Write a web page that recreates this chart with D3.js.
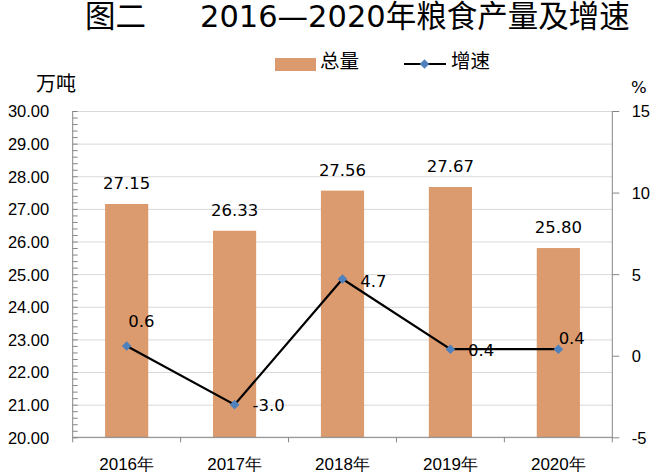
<!DOCTYPE html>
<html><head><meta charset="utf-8">
<script src="https://cdn.jsdelivr.net/npm/d3@7"></script>
<style>
html,body{margin:0;padding:0;background:#fff;}
svg{display:block;font-family:"DejaVu Sans","Noto Sans CJK SC",sans-serif;}
</style></head>
<body>
<svg id="chart" width="655" height="473"></svg>
<script>
// ---- data ----
const categories = ["2016年","2017年","2018年","2019年","2020年"];
const totals = [27.15, 26.33, 27.56, 27.67, 25.80];   // 万吨
const growth = [0.6, -3.0, 4.7, 0.4, 0.4];             // %
const leftTicks = [20,21,22,23,24,25,26,27,28,29,30];
const rightTicks = [-5,0,5,10,15];
const titleLead = "图二";
const titleMain = "2016—2020年粮食产量及增速";
const seriesNames = ["总量","增速"];

// ---- layout ----
const L = 72.7, R = 612.3, T = 111, B = 437.3;
const barColor = "#db9b6f", markColor = "#4f81bd", gridColor = "#d9d9d9", axisColor = "#868686";
// growth label offsets (dx, dy) relative to point
const gLabelOff = [[1.6,-19],[18,6.7],[17.7,7.7],[17.5,6.7],[0.3,-5]];

const svg = d3.select("#chart");
const x = d3.scaleBand().domain(categories).range([L, R]).paddingInner(0.6).paddingOuter(0.3);
const yL = d3.scaleLinear().domain([20,30]).range([B, T]);
const yR = d3.scaleLinear().domain([-5,15]).range([B, T]);

// title
const title = svg.append("text").attr("y", 27).attr("font-size", 30.5).attr("fill", "#000");
title.append("tspan").attr("x", 85).text(titleLead);
title.append("tspan").attr("x", 200).text(titleMain);

// gridlines
const grid = svg.append("g").attr("transform", `translate(${L},0)`)
  .call(d3.axisRight(yL).tickValues(leftTicks).tickSize(R - L).tickFormat(""));
grid.select(".domain").remove();
grid.selectAll("line").attr("stroke", gridColor).attr("stroke-width", 1);

// bars
svg.append("g").selectAll("rect").data(totals).join("rect")
  .attr("x", (d,i) => x(categories[i]))
  .attr("width", x.bandwidth())
  .attr("y", d => yL(d))
  .attr("height", d => B - yL(d))
  .attr("fill", barColor);

// left minor ticks
const minor = svg.append("g").attr("transform", `translate(${L},0)`)
  .call(d3.axisRight(yL).ticks(50).tickSize(5).tickFormat(""));
minor.select(".domain").remove();
minor.selectAll("line").attr("stroke", axisColor);

// left axis labels
const la = svg.append("g").attr("transform", `translate(${L},0)`)
  .call(d3.axisLeft(yL).tickValues(leftTicks).tickFormat(d3.format(".2f")).tickSize(0).tickPadding(23.5));
la.select(".domain").remove();
la.selectAll("text").attr("font-size", 16.5).attr("fill", "#000").attr("font-family", null).attr("dy", "0.36em");

// right axis
const ra = svg.append("g").attr("transform", `translate(${R},0)`)
  .call(d3.axisRight(yR).tickValues(rightTicks).tickFormat(d => String(d)).tickSize(7).tickPadding(12.4));
ra.select(".domain").remove();
ra.selectAll("line").attr("stroke", axisColor);
ra.selectAll("text").attr("font-size", 16.5).attr("fill", "#000").attr("font-family", null).attr("dy", "0.36em");

// axis lines
svg.append("line").attr("x1", L).attr("x2", L).attr("y1", T).attr("y2", B + 5).attr("stroke", axisColor);
svg.append("line").attr("x1", R).attr("x2", R).attr("y1", T).attr("y2", B + 5).attr("stroke", axisColor);
svg.append("line").attr("x1", L).attr("x2", R).attr("y1", B).attr("y2", B).attr("stroke", axisColor);

// category boundary ticks
const step = x.step();
const bounds = categories.map(c => x(c) + x.bandwidth()/2 - step/2).slice(1);
svg.append("g").selectAll("line").data(bounds).join("line")
  .attr("x1", d => d).attr("x2", d => d).attr("y1", B).attr("y2", B + 5).attr("stroke", axisColor);

// category labels
const ba = svg.append("g").attr("transform", `translate(0,${B})`)
  .call(d3.axisBottom(x).tickSize(0).tickPadding(20.5));
ba.select(".domain").remove();
ba.selectAll("text").attr("font-size", 17).attr("fill", "#000").attr("font-family", null);

// bar value labels
svg.append("g").selectAll("text").data(totals).join("text")
  .attr("x", (d,i) => x(categories[i]) + x.bandwidth()/2)
  .attr("y", d => yL(d) - 15)
  .attr("text-anchor", "middle").attr("font-size", 16.5).attr("fill", "#000")
  .text(d => d.toFixed(2));

// growth line
const cx = (i) => x(categories[i]) + x.bandwidth()/2;
const line = d3.line().x((d,i) => cx(i)).y(d => yR(d));
svg.append("path").datum(growth).attr("d", line).attr("fill", "none")
  .attr("stroke", "#000").attr("stroke-width", 2.2);
const diamond = d3.symbol().type(d3.symbolSquare).size(46);
svg.append("g").selectAll("path").data(growth).join("path")
  .attr("d", diamond)
  .attr("transform", (d,i) => `translate(${cx(i)},${yR(d)}) rotate(45)`)
  .attr("fill", markColor);
svg.append("g").selectAll("text").data(growth).join("text")
  .attr("x", (d,i) => cx(i) + gLabelOff[i][0])
  .attr("y", (d,i) => yR(d) + gLabelOff[i][1])
  .attr("font-size", 16.5).attr("fill", "#000")
  .text(d => d.toFixed(1));

// unit labels
svg.append("text").attr("x", 36).attr("y", 91).attr("font-size", 20).text("万吨");
svg.append("text").attr("x", 631).attr("y", 93.3).attr("font-size", 16.5).text("%");

// legend
const lg = svg.append("g");
lg.append("rect").attr("x", 275).attr("y", 58).attr("width", 41).attr("height", 13).attr("fill", barColor);
lg.append("text").attr("x", 320).attr("y", 68).attr("font-size", 19.5).text(seriesNames[0]);
lg.append("line").attr("x1", 404).attr("x2", 446).attr("y1", 64).attr("y2", 64).attr("stroke", "#000").attr("stroke-width", 2.2);
lg.append("path").attr("d", diamond).attr("transform", "translate(424.5,64) rotate(45)").attr("fill", markColor);
lg.append("text").attr("x", 451).attr("y", 68).attr("font-size", 19.5).text(seriesNames[1]);
</script>
</body></html>
